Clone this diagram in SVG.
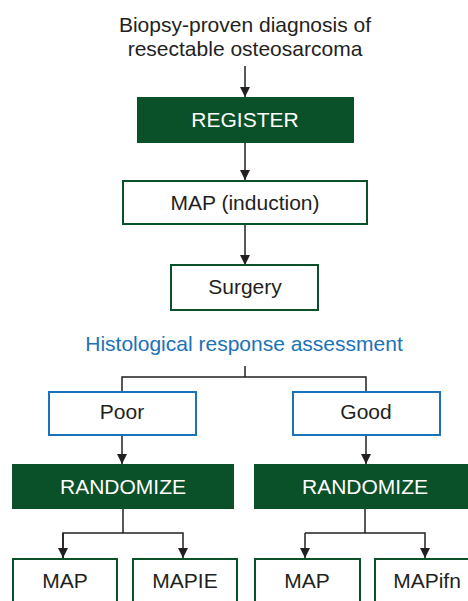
<svg xmlns="http://www.w3.org/2000/svg" width="468" height="601" viewBox="0 0 468 601">
<defs>
<marker id="ah" viewBox="0 0 10 10" refX="10" refY="5" markerWidth="10" markerHeight="10" markerUnits="userSpaceOnUse" orient="auto">
<path d="M0,0 L10,5 L0,10 z" fill="#231f20"/>
</marker>
<style>
text{font-family:"Liberation Sans",Arial,sans-serif;font-size:21px;text-anchor:middle;fill:#231f20}
.dark{fill:#0a5028}
.dark+text,.w{fill:#ffffff}
.gb{fill:#ffffff;stroke:#0a5028;stroke-width:2}
.bb{fill:#ffffff;stroke:#1a72b8;stroke-width:2}
.c{fill:none;stroke:#231f20;stroke-width:1.5}
.blue{fill:#1a72b8}
</style>
</defs>
<rect width="468" height="601" fill="#ffffff"/>
<g id="connectors">
<line class="c" x1="245" y1="66" x2="245" y2="97" marker-end="url(#ah)"/>
<line class="c" x1="245" y1="143" x2="245" y2="180" marker-end="url(#ah)"/>
<line class="c" x1="245" y1="224" x2="245" y2="265" marker-end="url(#ah)"/>
<polyline class="c" points="245,366 245,377"/>
<polyline class="c" points="122,392 122,377 366,377 366,392"/>
<line class="c" x1="122" y1="435" x2="122" y2="464" marker-end="url(#ah)"/>
<line class="c" x1="366" y1="435" x2="366" y2="464" marker-end="url(#ah)"/>
<line class="c" x1="123" y1="509" x2="123" y2="533"/>
<polyline class="c" points="63,558 63,533 183,533 183,558" marker-end="url(#ah)"/>
<line class="c" x1="63" y1="533" x2="63" y2="558" marker-end="url(#ah)"/>
<line class="c" x1="365" y1="509" x2="365" y2="533"/>
<polyline class="c" points="305,533 425,533 425,558" marker-end="url(#ah)"/>
<line class="c" x1="305" y1="533" x2="305" y2="558" marker-end="url(#ah)"/>
</g>
<g id="title">
<text x="245" y="32">Biopsy-proven diagnosis of</text>
<text x="245" y="56">resectable osteosarcoma</text>
</g>
<g id="register">
<rect class="dark" x="137" y="97" width="217" height="46"/>
<text class="w" x="245" y="127">REGISTER</text>
</g>
<g id="map-induction">
<rect class="gb" x="123" y="181" width="244" height="43"/>
<text x="245" y="210">MAP (induction)</text>
</g>
<g id="surgery">
<rect class="gb" x="171" y="265" width="147" height="45"/>
<text x="245" y="294">Surgery</text>
</g>
<g id="histological">
<text class="blue" x="244" y="351">Histological response assessment</text>
</g>
<g id="poor">
<rect class="bb" x="49" y="392" width="147" height="43"/>
<text x="122" y="419">Poor</text>
</g>
<g id="good">
<rect class="bb" x="293" y="392" width="147" height="43"/>
<text x="366" y="419">Good</text>
</g>
<g id="randomize-left">
<rect class="dark" x="12" y="464" width="222" height="45"/>
<text class="w" x="123" y="494">RANDOMIZE</text>
</g>
<g id="randomize-right">
<rect class="dark" x="254" y="464" width="224" height="45"/>
<text class="w" x="365" y="494">RANDOMIZE</text>
</g>
<g id="map-poor">
<rect class="gb" x="13" y="559" width="104" height="50"/>
<text x="65" y="588">MAP</text>
</g>
<g id="mapie">
<rect class="gb" x="133" y="559" width="104" height="50"/>
<text x="185" y="588">MAPIE</text>
</g>
<g id="map-good">
<rect class="gb" x="255" y="559" width="105" height="50"/>
<text x="307" y="588">MAP</text>
</g>
<g id="mapifn">
<rect class="gb" x="375" y="559" width="104" height="50"/>
<text x="427" y="588">MAPifn</text>
</g>
</svg>
